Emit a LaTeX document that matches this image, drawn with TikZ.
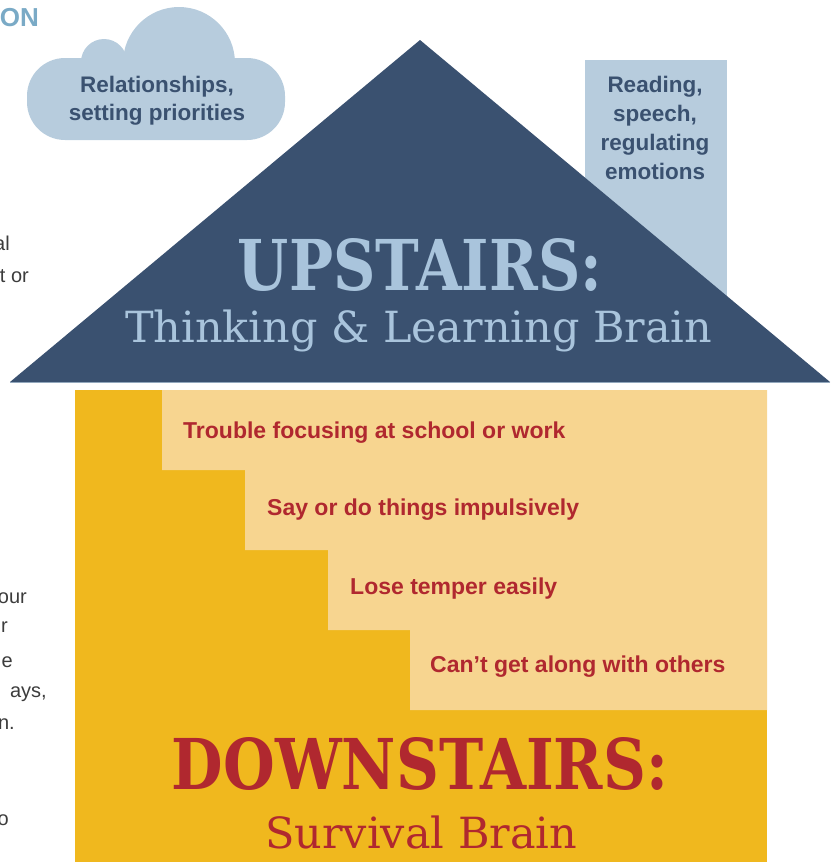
\documentclass[tikz,border=0pt]{standalone}
\usepackage{fontspec}
\setmainfont{Liberation Sans}
\newfontfamily\slabfont{DejaVu Serif}
\usetikzlibrary{positioning}
\definecolor{roofblue}{HTML}{3A5170}
\definecolor{skyblue}{HTML}{B7CCDD}
\definecolor{titleblue}{HTML}{A9C4DC}
\definecolor{onblue}{HTML}{7AAAC6}
\definecolor{gold}{HTML}{F0B81E}
\definecolor{pale}{HTML}{F7D590}
\definecolor{brickred}{HTML}{B0282F}
\definecolor{fraggray}{HTML}{3C3C3C}
\tikzstyle{stairtext} = [anchor=base west, inner sep=0pt, text=brickred, font=\bfseries\fontsize{23}{28}\selectfont]
\tikzstyle{skytext} = [inner sep=0pt, align=center, text=roofblue, font=\bfseries\fontsize{22.5}{28}\selectfont]
\tikzstyle{frag} = [anchor=base east, inner sep=0pt, text=fraggray, font=\fontsize{20}{24}\selectfont]

\begin{document}
\begin{tikzpicture}[x=1pt, y=-1pt]
\useasboundingbox (0,0) rectangle (833,862);

\fill[skyblue] (585,60) rectangle (727,310);
\fill[skyblue, rounded corners=38] (27,58) rectangle (285,140);
\fill[skyblue] (179,63) circle (56);
\fill[skyblue] (104,62) circle (23);

\fill[roofblue] (10,382) -- (420,40) -- (830,382) -- cycle;
\draw[skyblue!70!roofblue, line width=1.2] (10,382.5) -- (830,382.5);

\fill[gold] (75,390) rectangle (767,862);
\fill[pale] (162,390) -- (767,390) -- (767,710) -- (410,710) |- (328,630) |- (245,550) |- (162,470) -- cycle;

\node[skytext] (cloudtext) at (157,101) {Relationships,\\setting priorities};
\node[skytext, font=\bfseries\fontsize{22.5}{29}\selectfont] (chimneytext) at (655,128) {Reading,\\speech,\\regulating\\emotions};

\node[inner sep=0pt, text=titleblue] (upstairs) at (420,265) {\resizebox{364pt}{52pt}{\slabfont\bfseries UPSTAIRS:}};
\node[anchor=base west, inner sep=0pt, text=titleblue] (thinking) at (125,342) {\resizebox{587pt}{!}{\slabfont\fontsize{38}{40}\selectfont Thinking \& Learning Brain}};

\node[stairtext] (focus) at (183,438) {Trouble focusing at school or work};
\node[stairtext] (impulse) at (267,515) {Say or do things impulsively};
\node[stairtext] (temper) at (350,594) {Lose temper easily};
\node[stairtext] (others) at (430,672) {Can’t get along with others};

\node[inner sep=0pt, text=brickred] (downstairs) at (420,764) {\resizebox{496pt}{52pt}{\slabfont\bfseries DOWNSTAIRS:}};
\node[anchor=base west, inner sep=0pt, text=brickred] (survival) at (265,848) {\resizebox{312pt}{!}{\slabfont\fontsize{38}{40}\selectfont Survival Brain}};

\node[anchor=base east, inner sep=0pt, text=onblue, font=\bfseries\fontsize{26}{30}\selectfont] (heading) at (39,27) {ON};
\node[frag] (fraga) at (10,250) {al};
\node[frag] (fragb) at (29,282) {t or};
\node[frag] (fragc) at (27,603) {our};
\node[frag] (fragd) at (8,632) {r};
\node[frag] (frage) at (13,667) {e};
\node[frag] (fragf) at (47,697) {ays,};
\node[frag] (fragg) at (15,729) {n.};
\node[frag] (fragh) at (9,825) {o};
\end{tikzpicture}
\end{document}
